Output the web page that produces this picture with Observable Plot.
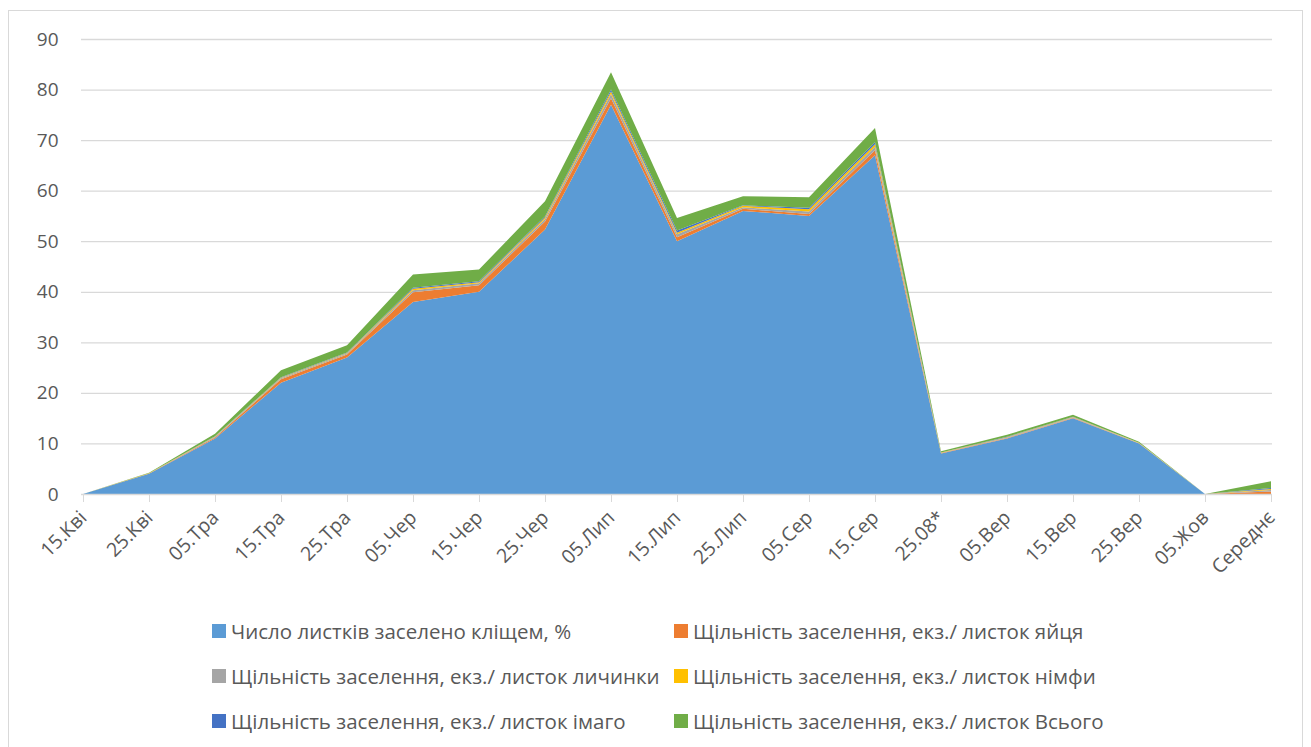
<!DOCTYPE html>
<html>
<head>
<meta charset="utf-8">
<script src="https://cdn.jsdelivr.net/npm/d3@7"></script>
<script src="https://cdn.jsdelivr.net/npm/@observablehq/plot@0.6"></script>
<style>
  html, body { margin: 0; padding: 0; background: #fff; }
  body { width: 1311px; height: 747px; position: relative; overflow: hidden; font-family: "Open Sans", sans-serif; }
  #frame { position: absolute; left: 8px; top: 10px; width: 1295px; height: 760px; border: 1px solid #d9d9d9; box-sizing: border-box; }
  #chart { position: absolute; left: 0; top: 0; }
  .leg { position: absolute; display: flex; align-items: center; font-size: 20.5px; color: #595959; white-space: nowrap; }
  .leg .sw { width: 14px; height: 14px; margin-right: 5px; flex: none; }
</style>
</head>
<body>
<div id="frame"></div>
<div id="chart"></div>
<div id="legend"></div>
<script>
const categories = ["15.Кві","25.Кві","05.Тра","15.Тра","25.Тра","05.Чер","15.Чер","25.Чер","05.Лип","15.Лип","25.Лип","05.Сер","15.Сер","25.08*","05.Вер","15.Вер","25.Вер","05.Жов","Середнє"];
const seriesNames = [
  "Число листків заселено кліщем, %",
  "Щільність заселення, екз./ листок яйця",
  "Щільність заселення, екз./ листок личинки",
  "Щільність заселення, екз./ листок німфи",
  "Щільність заселення, екз./ листок імаго",
  "Щільність заселення, екз./ листок Всього"
];
const seriesColors = ["#5B9BD5","#ED7D31","#A5A5A5","#FFC000","#4472C4","#70AD47"];
const leaves  = [0, 4, 11, 22, 27, 38, 40, 52.3, 77, 50, 56, 55, 67, 8, 11, 15, 10, 0, 0];
const eggs    = [0, 0.05, 0.2, 0.7, 0.6, 1.9, 1.3, 1.6, 1.3, 0.8, 0.4, 0.4, 1.0, 0.1, 0.1, 0.1, 0.05, 0, 0.5];
const larvae  = [0, 0.02, 0.1, 0.2, 0.2, 0.4, 0.4, 0.5, 0.8, 0.6, 0.3, 0.5, 0.7, 0.05, 0.1, 0.1, 0.05, 0, 0.3];
const nymphs  = [0, 0.02, 0.05, 0.1, 0.1, 0.3, 0.2, 0.3, 0.5, 0.3, 0.3, 0.4, 0.5, 0.05, 0.05, 0.05, 0.02, 0, 0.2];
const adults  = [0, 0.02, 0.05, 0.1, 0.1, 0.2, 0.2, 0.2, 0.4, 0.4, 0.1, 0.3, 0.4, 0.02, 0.05, 0.05, 0.02, 0, 0.2];
const total   = [0, 0.1, 0.5, 1.4, 1.4, 2.6, 2.3, 3.0, 3.4, 2.5, 1.8, 2.1, 2.8, 0.25, 0.4, 0.4, 0.2, 0, 1.3];
const yTicks = [0,10,20,30,40,50,60,70,80,90];

const seriesValues = [leaves, eggs, larvae, nymphs, adults, total];
const data = [];
seriesValues.forEach((vals, si) => {
  vals.forEach((v, i) => data.push({cat: categories[i], series: seriesNames[si], value: v}));
});

const chart = Plot.plot({
  width: 1311,
  height: 600,
  marginLeft: 81,
  marginRight: 39,
  marginTop: 39,
  marginBottom: 106,
  style: {fontFamily: "'Open Sans', sans-serif", fontSize: "18px", color: "#595959", background: "transparent"},
  x: {type: "point", domain: categories, padding: 0, label: null},
  y: {domain: [0, 90], label: null},
  color: {domain: seriesNames, range: seriesColors},
  marks: [
    Plot.gridY(yTicks.filter(d => d > 0), {stroke: "#d9d9d9", strokeOpacity: 1, strokeWidth: 1.3}),
    Plot.areaY(data, {x: "cat", y: "value", z: "series", fill: "series", order: null}),
    Plot.ruleY([0], {stroke: "#d9d9d9", strokeWidth: 1.3}),
    Plot.axisX({tickRotate: -45, tickSize: 8, tickPadding: 12, stroke: "#d9d9d9", fill: "#595959", fontSize: 19.5, label: null}),
    Plot.axisY(yTicks, {tickSize: 0, tickPadding: 23, fill: "#595959", fontSize: 19, label: null})
  ]
});
document.getElementById("chart").appendChild(chart);

const legendPos = [
  [212, 631], [674, 631],
  [212, 676], [674, 676],
  [212, 721], [674, 721]
];
const legend = document.getElementById("legend");
seriesNames.forEach((name, i) => {
  const el = document.createElement("div");
  el.className = "leg";
  el.style.left = legendPos[i][0] + "px";
  el.style.top = (legendPos[i][1] - 15) + "px";
  el.style.height = "30px";
  const sw = document.createElement("span");
  sw.className = "sw";
  sw.style.background = seriesColors[i];
  const tx = document.createElement("span");
  tx.textContent = name;
  el.appendChild(sw);
  el.appendChild(tx);
  legend.appendChild(el);
});
</script>
</body>
</html>
